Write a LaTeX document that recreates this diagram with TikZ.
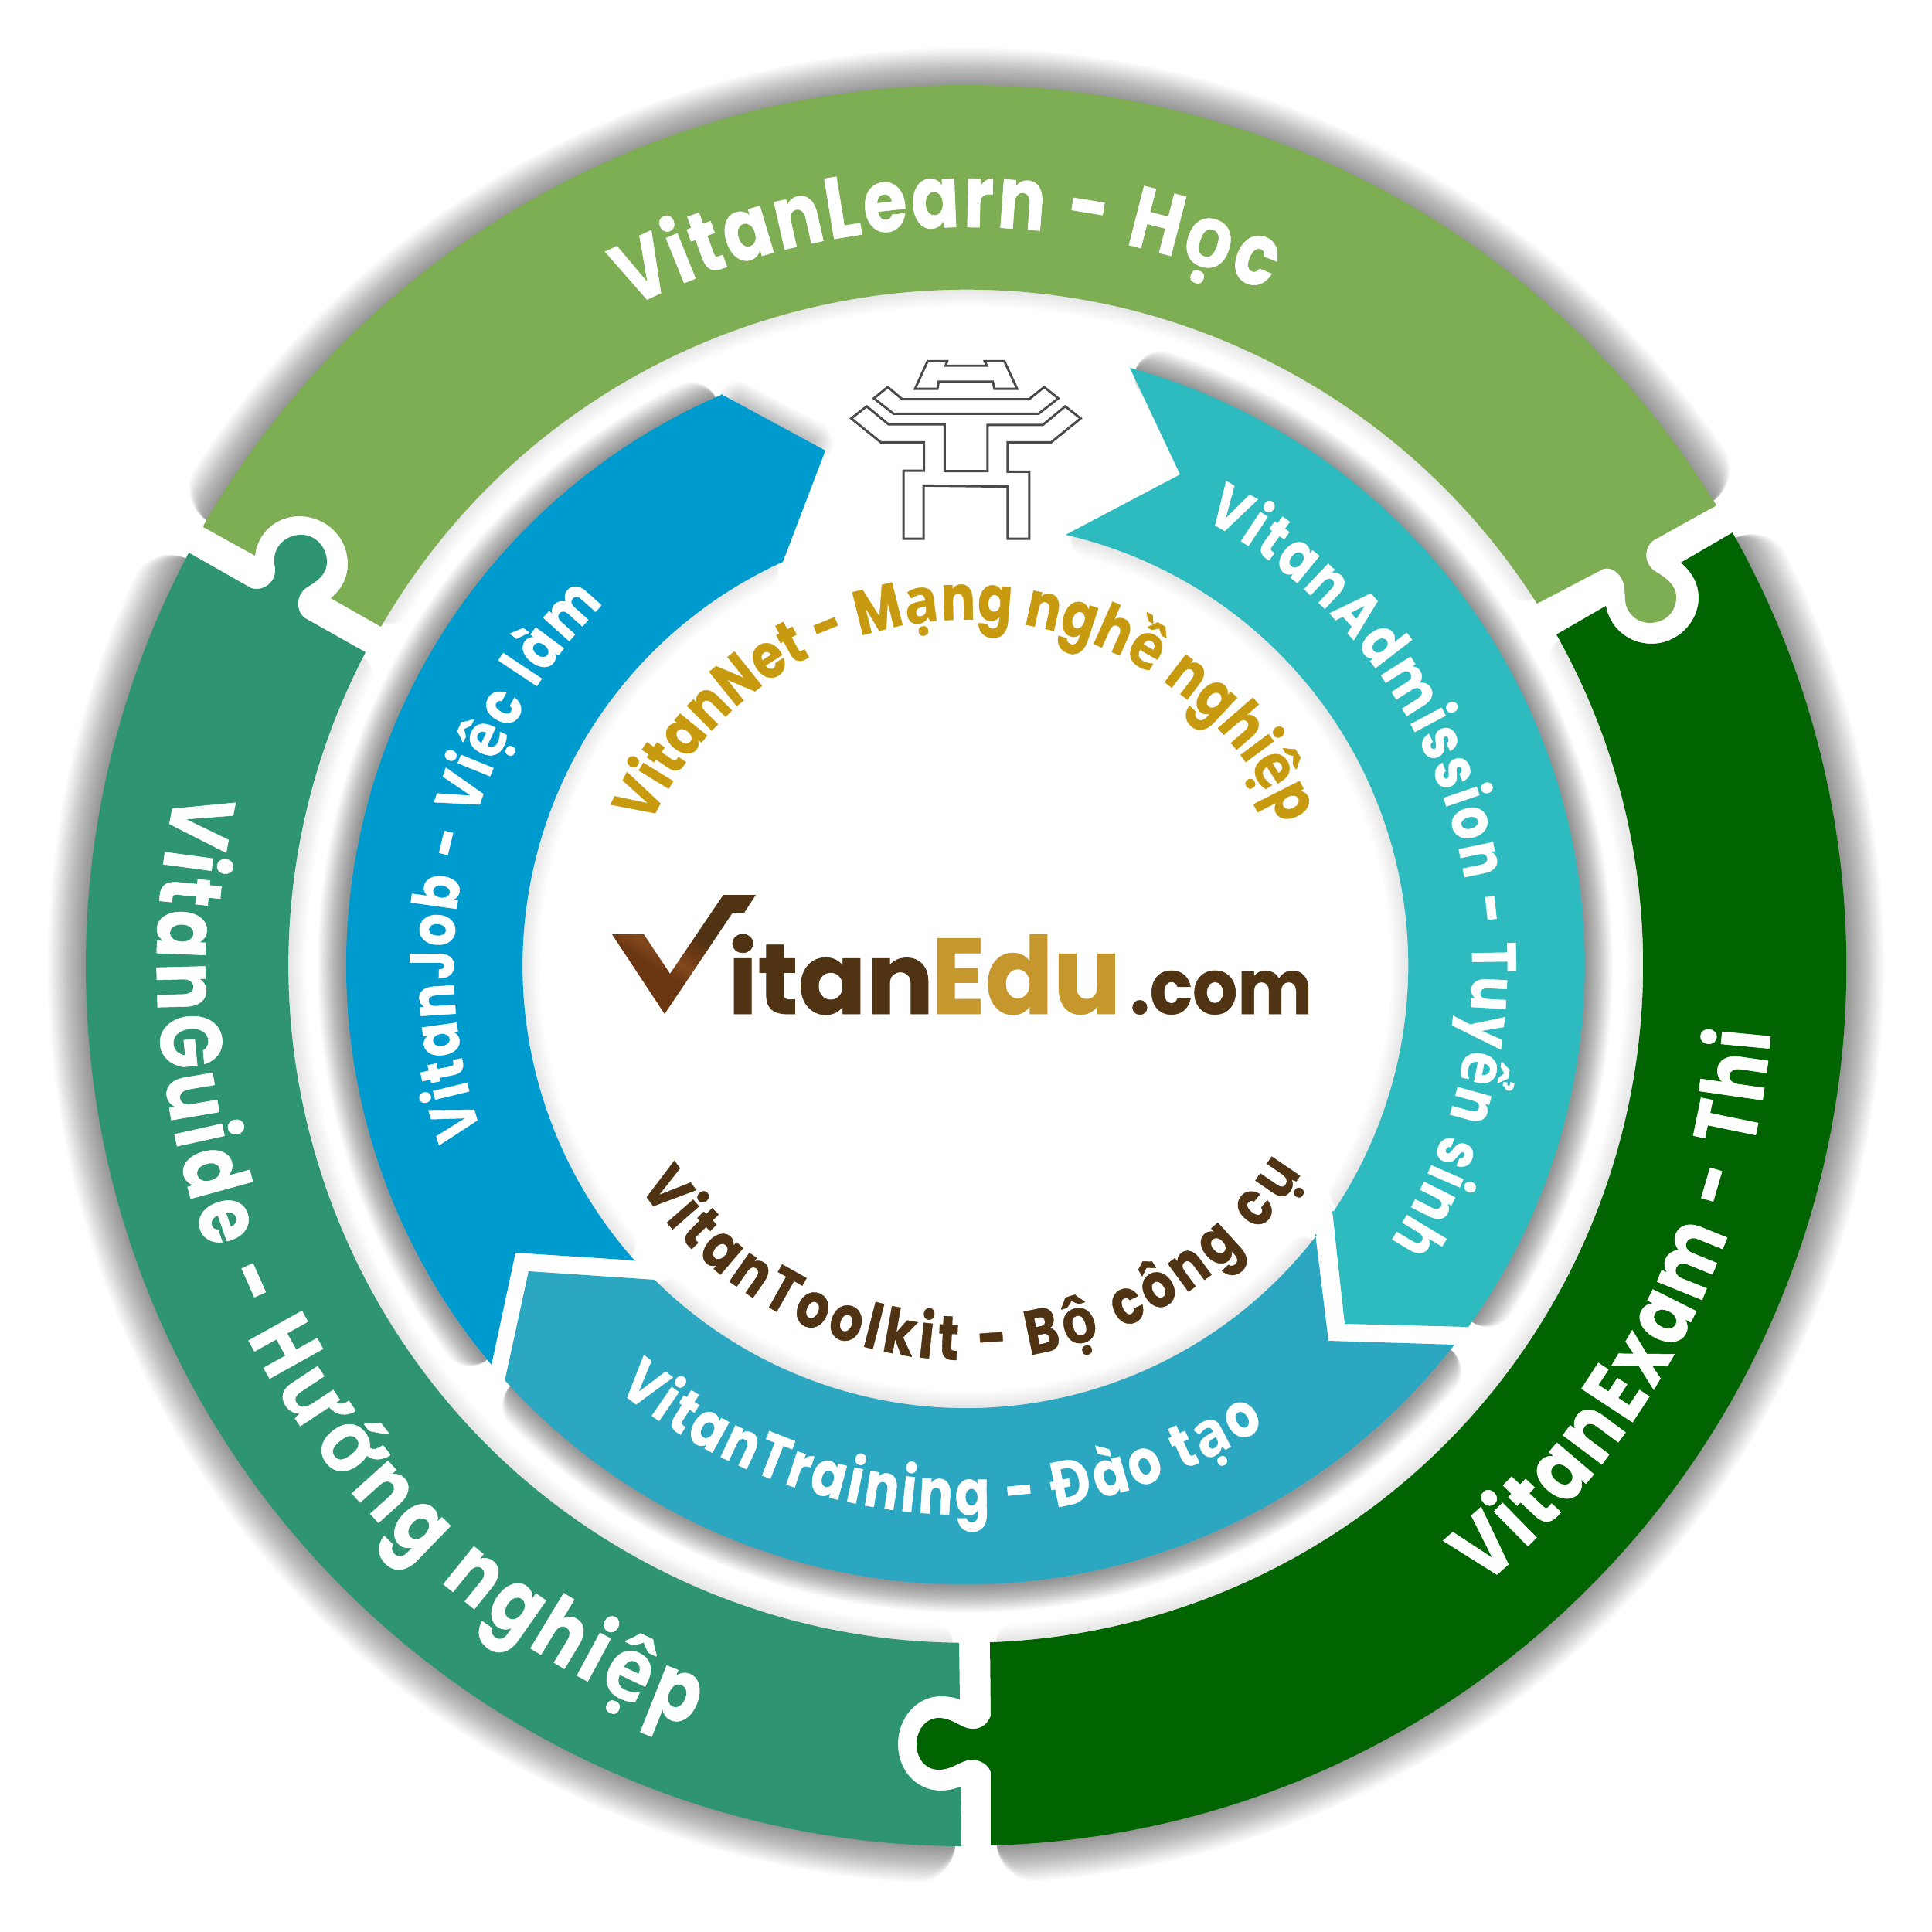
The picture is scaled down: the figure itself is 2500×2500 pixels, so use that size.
\documentclass[tikz,border=0pt]{standalone}
\usepackage{fontspec}
\usetikzlibrary{decorations.text,calc}
\newfontfamily\pop{Poppins}[FakeStretch=.82,BoldFeatures={FakeBold=.5}]
\newfontfamily\vnf{Open Sans}[FakeStretch=.92,BoldFeatures={FakeBold=.5}]
\definecolor{clearn}{HTML}{7DAE54}
\definecolor{cguide}{HTML}{2E9570}
\definecolor{cexam}{HTML}{006400}
\definecolor{cjob}{HTML}{009BCE}
\definecolor{cadm}{HTML}{2DBBC0}
\definecolor{ctrain}{HTML}{2CA7C2}
\definecolor{cgate}{HTML}{4A4A48}
\definecolor{cgold}{HTML}{C79A10}
\definecolor{cbrown}{HTML}{4F3313}
\definecolor{cgoldb}{HTML}{C6972C}
\definecolor{vb}{HTML}{6B3713}
\definecolor{vs}{HTML}{82481C}
\definecolor{vd}{HTML}{4F3313}
\pgfdeclareverticalshading{vgrad}{100bp}{color(0bp)=(vb);color(40bp)=(vb);color(46bp)=(vs);color(52bp)=(vb);color(60bp)=(vd);color(100bp)=(vd)}
\def\fo#1{\pop\bfseries\fontsize{#1}{#1}\selectfont}
\def\vb{\vnf\bfseries}
\def\La{\fo{32}}
\def\Lb{\fo{32}\vb}
\def\Sa{\fo{23}}
\def\Sb{\fo{23}\vb}
\def\pLearn{(263,682) -- (330,719) .. controls (333,690) and (357,668) .. (387,668) .. controls (422,668) and (450,695) .. (450,730) .. controls (450,748) and (441,764) .. (428,774) -- (493,811) arc[start angle=210.1,end angle=327.6,radius=875] -- (1989,781) -- (2075,736) .. controls (2088,733) and (2100,745) .. (2102,760) -- (2103,777) .. controls (2104,793) and (2118,806) .. (2135,806) .. controls (2154,806) and (2169,792) .. (2169,773) .. controls (2169,757) and (2156,748) .. (2143,740) .. controls (2124,729) and (2129,705) .. (2140,699) -- (2221,654) arc[start angle=328.5,end angle=210,radius=1139] -- cycle}
\def\pGuide{(244,715) -- (325,761) .. controls (342,766) and (358,752) .. (356,735) .. controls (350,710) and (368,692) .. (390,692) .. controls (408,692) and (423,708) .. (423,727) .. controls (423,745) and (407,754) .. (397,760) .. controls (384,768) and (381,790) .. (395,800) -- (473,844) arc[start angle=207.6,end angle=90.6,radius=876] -- (1241,2126) -- (1242,2199) .. controls (1234,2196) and (1226,2195) .. (1217,2195) .. controls (1186,2195) and (1162,2223) .. (1162,2257) .. controls (1162,2291) and (1186,2317) .. (1217,2317) .. controls (1226,2317) and (1235,2315) .. (1243,2312) -- (1244,2389) arc[start angle=90.3,end angle=208,radius=1139] -- cycle}
\def\pExam{(2242,689) -- (2175,728) .. controls (2189,740) and (2198,755) .. (2198,773) .. controls (2198,806) and (2170,833) .. (2137,833) .. controls (2107,833) and (2083,812) .. (2078,784) -- (2014,821) arc[start angle=-29.3,end angle=88,radius=876] -- (1281,2125) -- (1282,2220) .. controls (1278,2232) and (1268,2238) .. (1257,2237) .. controls (1245,2237) and (1232,2223) .. (1215,2223) .. controls (1197,2223) and (1186,2240) .. (1186,2257) .. controls (1186,2275) and (1197,2290) .. (1215,2290) .. controls (1232,2290) and (1245,2277) .. (1257,2277) .. controls (1268,2277) and (1279,2283) .. (1282,2293) -- (1282,2388) arc[start angle=88.4,end angle=-29.5,radius=1139] -- cycle}
\def\pJob{(933,510) -- (1068,583) -- (1013,727) arc[start angle=245.6,end angle=138.3,radius=574] -- (822,1631) -- (667,1621) -- (636,1766) arc[start angle=140,end angle=246.8,radius=804] -- cycle}
\def\pTrain{(684,1645) -- (847,1656) arc[start angle=134.8,end angle=37.5,radius=572] -- (1702,1597) -- (1719,1735) -- (1882,1740) arc[start angle=37.8,end angle=137.9,radius=802] -- cycle}
\def\pAdm{(1462,476) -- (1527,614) -- (1379,692) arc[start angle=283,end angle=393.8,radius=572] -- (1724,1567) -- (1740,1713) -- (1900,1717) arc[start angle=35.7,end angle=-74.7,radius=802] -- cycle}
% soft shadow along an arc: radius, first angle, last angle, greatest stroke width, opacity of one stroke, steps
\def\archalo#1#2#3#4#5#6{\foreach \k in {1,...,#6}{%
  \pgfmathsetmacro\wd{\k*#4/#6}%
  \pgfmathsetmacro\aA{#2+(\wd/2+8)/#1*57.3}%
  \pgfmathsetmacro\aB{#3-(\wd/2+8)/#1*57.3}%
  \draw[black,opacity=#5,line cap=round,line width=\wd*0.2845pt] ($(c)+(\aA:#1)$) arc[start angle=\aA,end angle=\aB,radius=#1];}}
\tikzset{
  arctext/.style n args={2}{decorate,decoration={text along path,text align={fit to path},text color=#1,text={#2}}},
  gateline/.style={draw=cgate,line width=.85pt,line join=miter},
  logotext/.style={anchor=base west,inner sep=0pt,outer sep=0pt},
}
\begin{document}
\begin{tikzpicture}[x=.01cm,y=-.01cm]
\useasboundingbox (0,0) rectangle (2500,2500);
\fill[white] (0,0) rectangle (2500,2500);
\coordinate (c) at (1250,1250);
% shadows of the outer ring
\archalo{1138}{210}{328.5}{100}{.014}{30}
\archalo{1138}{-29.5}{88.4}{100}{.014}{30}
\archalo{1138}{90.3}{208}{100}{.014}{30}
\archalo{875}{210}{327.6}{44}{.006}{12}
\archalo{875}{-29.3}{88}{44}{.006}{12}
\archalo{875}{90.6}{207.6}{44}{.006}{12}
% shadows of the inner band
\archalo{804}{140}{246.8}{70}{.014}{30}
\archalo{802}{-74.7}{35.7}{70}{.014}{30}
\archalo{802}{37.8}{137.9}{70}{.014}{30}
\archalo{574}{138.3}{245.6}{44}{.006}{12}
\archalo{572}{37.5}{134.8}{44}{.006}{12}
\archalo{572}{283}{393.8}{44}{.006}{12}
\foreach \k in {1,...,16}{\draw[black,opacity=.014,line cap=round,line width=\k*1pt] (955,522) -- (1050,573);}
% pieces
\fill[clearn] \pLearn;
\fill[cguide] \pGuide;
\fill[cexam] \pExam;
\fill[cjob] \pJob;
\fill[ctrain] \pTrain;
\fill[cadm] \pAdm;
% gate
\begin{scope}[shift={(1000,420)},x=.003333cm,y=-.003333cm]
\path[gateline] (602,142) -- (678,142) -- (672,160) -- (832,160) -- (824,142) -- (900,142) -- (950,250) -- (862,250) -- (855,222) -- (645,222) -- (640,250) -- (553,250) -- cycle;
\path[gateline] (447,243) -- (503,290) -- (997,290) -- (1055,243) -- (1110,287) -- (1033,347) -- (470,347) -- (393,287) -- cycle;
\path[gateline] (365,318) -- (450,388) -- (668,388) -- (668,570) -- (835,570) -- (835,390) -- (1050,390) -- (1137,318) -- (1197,365) -- (1082,458) -- (913,458) -- (913,572) -- (997,572) -- (997,833) -- (913,833) -- (913,630) -- (586,626) -- (586,833) -- (508,833) -- (508,568) -- (588,568) -- (588,458) -- (420,458) -- (305,365) -- cycle;
\end{scope}
% logo
\shade[shading=vgrad,shading angle=-32] (792,1209) -- (833,1209) -- (867,1260) -- (936,1158) -- (978,1158) -- (963,1181) -- (948,1181) -- (860,1312) -- cycle;
\node[logotext,text=cbrown] (litan) at (942,1312) {\resizebox{2.66cm}{1.03cm}{\pop\bfseries itan}};
\node[logotext,text=cgoldb] (ledu) at (1205,1312) {\resizebox{2.45cm}{1.03cm}{\pop\bfseries Edu}};
\node[logotext,text=cbrown] (lcom) at (1462,1312) {\resizebox{2.36cm}{.56cm}{\pop\bfseries .com}};
% ring labels
\path[arctext={white}{|\La|VitanLearn - H|\Lb|ọ|\La|c||}] ($(c)+(243:956)$) arc[start angle=243,end angle=294,radius=956];
\path[arctext={white}{|\La|VitanExam - Thi||}] ($(c)+(50.2:1045)$) arc[start angle=50.2,end angle=4.7,radius=1045];
\path[arctext={white}{|\La|VitanGuide - H|\Lb|ướ|\La|ng nghi|\Lb|ệ|\La|p||}] ($(c)+(192.5:1047)$) arc[start angle=192.5,end angle=110,radius=1047];
% band labels
\path[arctext={white}{|\Sa|VitanJob - Vi|\Sb|ệ|\Sa|c làm||}] ($(c)+(161:663)$) arc[start angle=161,end angle=225,radius=663];
\path[arctext={white}{|\Sa|VitanAdmission - Tuy|\Sb|ể|\Sa|n sinh||}] ($(c)+(298:655)$) arc[start angle=298,end angle=393,radius=655];
\path[arctext={white}{|\Sa|VitanTraining - |\Sb|Đ|\Sa|ào t|\Sb|ạ|\Sa|o||}] ($(c)+(129.5:710)$) arc[start angle=129.5,end angle=57,radius=710];
% centre labels
\path[arctext={cgold}{|\Sa|VitanNet - M|\Sb|ạ|\Sa|ng ngh|\Sb|ề|\Sa| nghi|\Sb|ệ|\Sa|p||}] ($(c)+(204:448)$) arc[start angle=204,end angle=336,radius=448];
\path[arctext={cbrown}{|\Sa|VitanToolkit - B|\Sb|ộ|\Sa| công c|\Sb|ụ||}] ($(c)+(146:510)$) arc[start angle=146,end angle=31.5,radius=510];
\end{tikzpicture}
\end{document}
